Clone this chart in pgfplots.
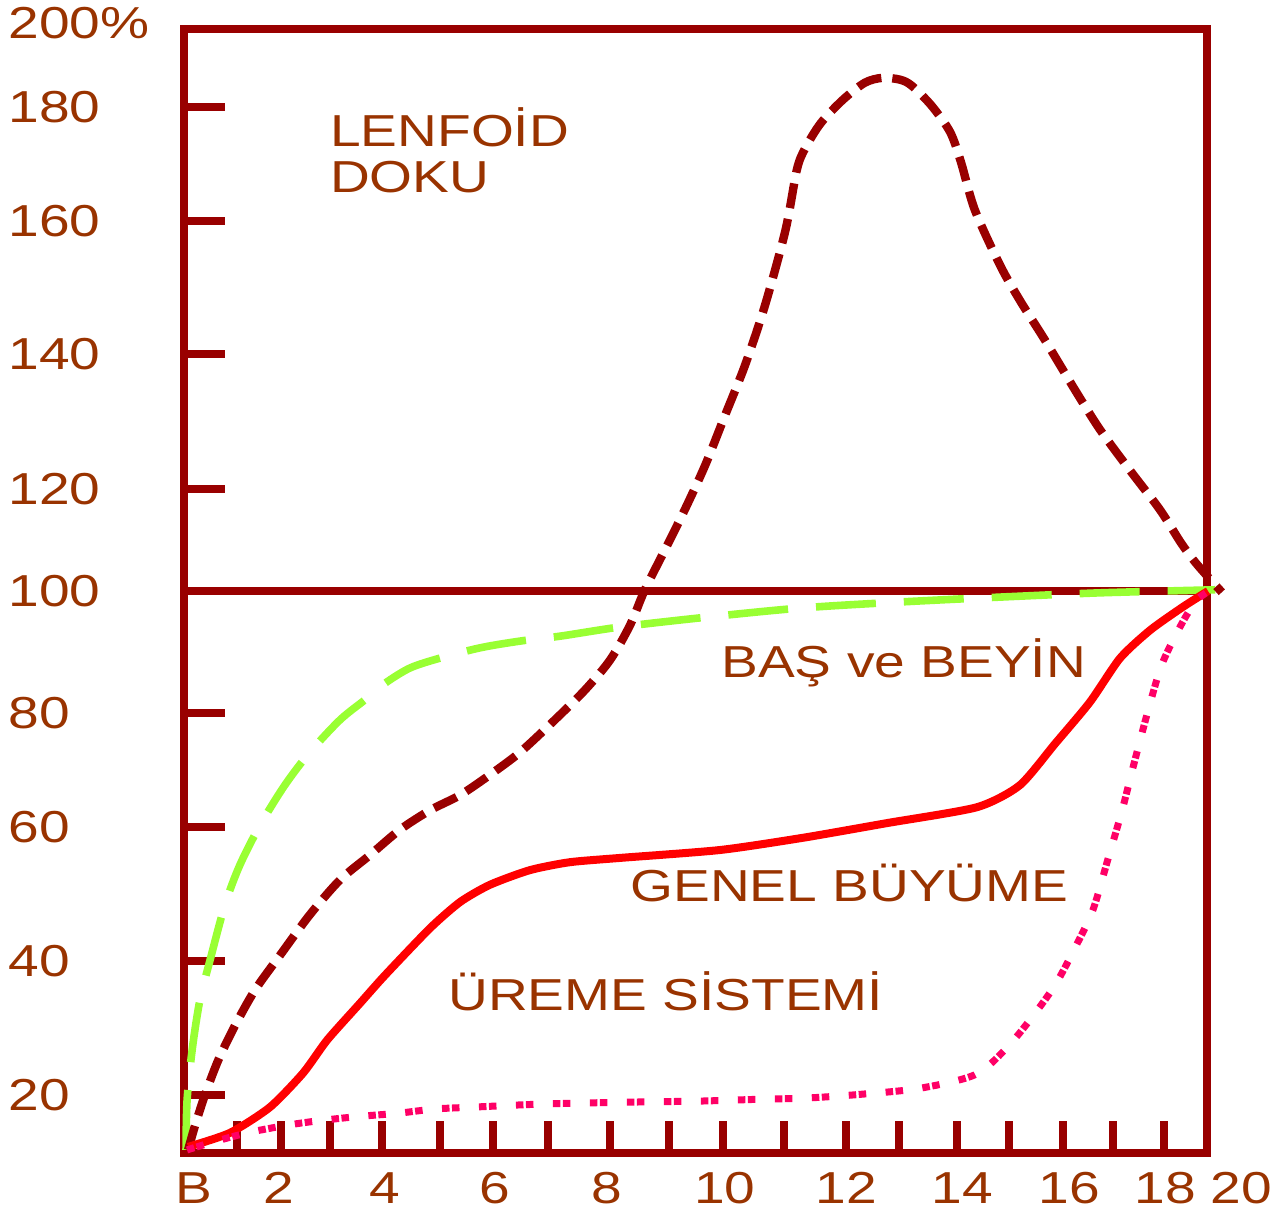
\documentclass[border=0pt]{standalone}
\usepackage{fontspec}
\setmainfont{Liberation Sans}[FakeStretch=1.23]
\usepackage{pgfplots}
\pgfplotsset{compat=1.18}
\definecolor{axc}{HTML}{990000}
\definecolor{txc}{HTML}{993300}
\definecolor{lym}{HTML}{990000}
\definecolor{grn}{HTML}{99FF33}
\definecolor{redc}{HTML}{FF0000}
\definecolor{pnk}{HTML}{FF0066}
\newcommand\lbl{\fontsize{22.4pt}{23pt}\selectfont}
\begin{document}
\begin{tikzpicture}
\begin{axis}[
  scale only axis, width=511.5pt, height=562pt,
  xmin=0, xmax=20, ymin=8, ymax=192,
  clip=false,
  axis line style={line width=4pt, draw=axc, line cap=rect},
  tick pos=left,
  tick align=inside,
  xtick={0.20,1.85,3.93,6.08,8.26,10.57,12.95,15.22,17.31,19.19},
  xticklabels={B,2,4,6,8,10,12,14,16,18},
  minor xtick={1.036,1.896,2.854,3.871,5.005,6.041,7.116,8.328,9.482,10.538,11.730,12.942,13.978,15.112,16.129,17.185,18.162,19.159},
  minor tick length=16pt,
  major tick length=20.5pt,
  major x tick style={draw=none},
  minor x tick style={line width=4pt, draw=axc},
  major y tick style={line width=4pt, draw=axc},
  ytick={17.49,39.42,61.36,80.03,116.70,138.80,160.58,179.24,192},
  yticklabels={20,40,60,80,120,140,160,180,\raisebox{3pt}[\height][0pt]{200\%}},
  extra y ticks={100}, extra y tick labels={100},
  extra y tick style={grid=major, major grid style={line width=4pt, draw=axc}},
  yticklabel style={anchor=west, inner sep=0pt, xshift=-88pt},
  xticklabel style={anchor=north, inner sep=0pt, yshift=-9.5pt},
  tick label style={font=\lbl, text=txc},
]
\addplot[grn, line width=3.8pt, dash pattern=on 30pt off 14pt, smooth, tension=0.5] coordinates {
(0.04,8.5) (0.06,16.6) (0.16,24.9) (0.31,33.0) (0.51,39.6) (0.80,48.6) (1.09,55.1) (1.49,61.7) (1.97,68.2) (2.46,73.6) (3.05,78.9) (3.54,82.2) (3.93,84.9) (4.42,87.4) (5.0,89.0) (5.79,90.7) (6.57,91.8) (7.35,92.6) (8.52,94.1) (10.09,95.6) (12.04,97.2) (14.0,98.2) (15.95,99.0) (17.91,99.7) (20.16,100.2)
};
\addplot[lym, line width=4.2pt, dash pattern=on 12.5pt off 5.5pt, smooth, tension=0.5] coordinates {
(0.08,8.5) (0.22,12.6) (0.41,17.5) (0.67,23.2) (1.00,28.9) (1.39,34.7) (1.88,40.4) (2.46,47.0) (3.05,52.7) (3.64,56.8) (4.22,60.9) (4.81,64.1) (5.40,66.6) (5.98,69.9) (6.57,73.6) (7.25,78.9) (7.84,83.8) (8.33,88.7) (8.72,94.4) (9.01,100.2) (9.40,106.7) (9.79,113.3) (10.19,120.6) (10.58,128.8) (10.97,137.0) (11.36,146.8) (11.76,159.1) (11.98,168.9) (12.14,172.4) (12.45,176.6) (12.88,180.4) (13.31,183.2) (13.65,184.0) (14.00,183.7) (14.23,182.7) (14.62,179.4) (14.98,175.1) (15.19,170.2) (15.46,162.4) (15.95,153.4) (16.34,147.6) (16.83,141.1) (17.42,132.9) (17.91,126.4) (18.49,119.8) (19.08,113.3) (19.49,107.9) (19.80,104.4) (20.29,99.8)
};
\addplot[redc, line width=4pt, smooth, tension=0.4] coordinates {
(0.08,9.0) (0.90,11.3) (1.68,15.5) (2.33,21.1) (2.80,26.5) (3.44,32.5) (3.93,37.1) (4.81,44.8) (5.40,49.1) (5.98,51.9) (6.76,54.3) (7.54,55.6) (8.52,56.3) (10.48,57.6) (12.10,59.6) (13.74,62.0) (15.50,64.6) (16.34,68.2) (17.03,75.0) (17.71,81.8) (18.30,89.0) (18.89,93.6) (19.53,97.4) (20.02,100.0)
};
\addplot[pnk, line width=3.5pt, dash pattern=on 3.75pt off 1.25pt on 3.75pt off 9.75pt, smooth, tension=0.5] coordinates {
(0.06,8.5) (0.57,9.8) (1.29,11.4) (2.13,12.7) (2.76,13.4) (3.44,14.0) (4.18,14.5) (4.90,15.2) (5.63,15.5) (6.96,16.0) (8.52,16.3) (10.09,16.5) (11.26,16.8) (12.18,17.0) (13.22,17.6) (14.39,18.6) (15.46,20.8) (16.05,24.9) (16.54,29.8) (17.03,35.5) (17.42,41.6) (17.77,47.8) (18.06,56.0) (18.34,64.1) (18.59,72.3) (18.85,80.5) (19.08,87.1) (19.28,91.0) (19.57,95.6) (19.80,98.5) (20.0,99.8)
};
\begin{scope}[every node/.style={anchor=base west, inner sep=0pt, font=\lbl, text=txc}]
\node at (axis cs:2.85,172.7) {LENFOİD};
\node at (axis cs:2.85,165.2) {DOKU};
\node at (axis cs:10.50,85.8) {BAŞ ve BEYİN};
\node at (axis cs:8.72,49.1) {GENEL BÜYÜME};
\node at (axis cs:5.16,31.4) {ÜREME SİSTEMİ};
\end{scope}
\node[anchor=north, inner sep=0pt, yshift=-9.5pt, font=\lbl, text=txc] at (axis cs:20.675,8) {20};
\end{axis}
\pgfresetboundingbox
\path (current axis.south west) ++(-92pt,-29pt) rectangle ++(640.5pt,605.5pt);
\end{tikzpicture}
\end{document}
